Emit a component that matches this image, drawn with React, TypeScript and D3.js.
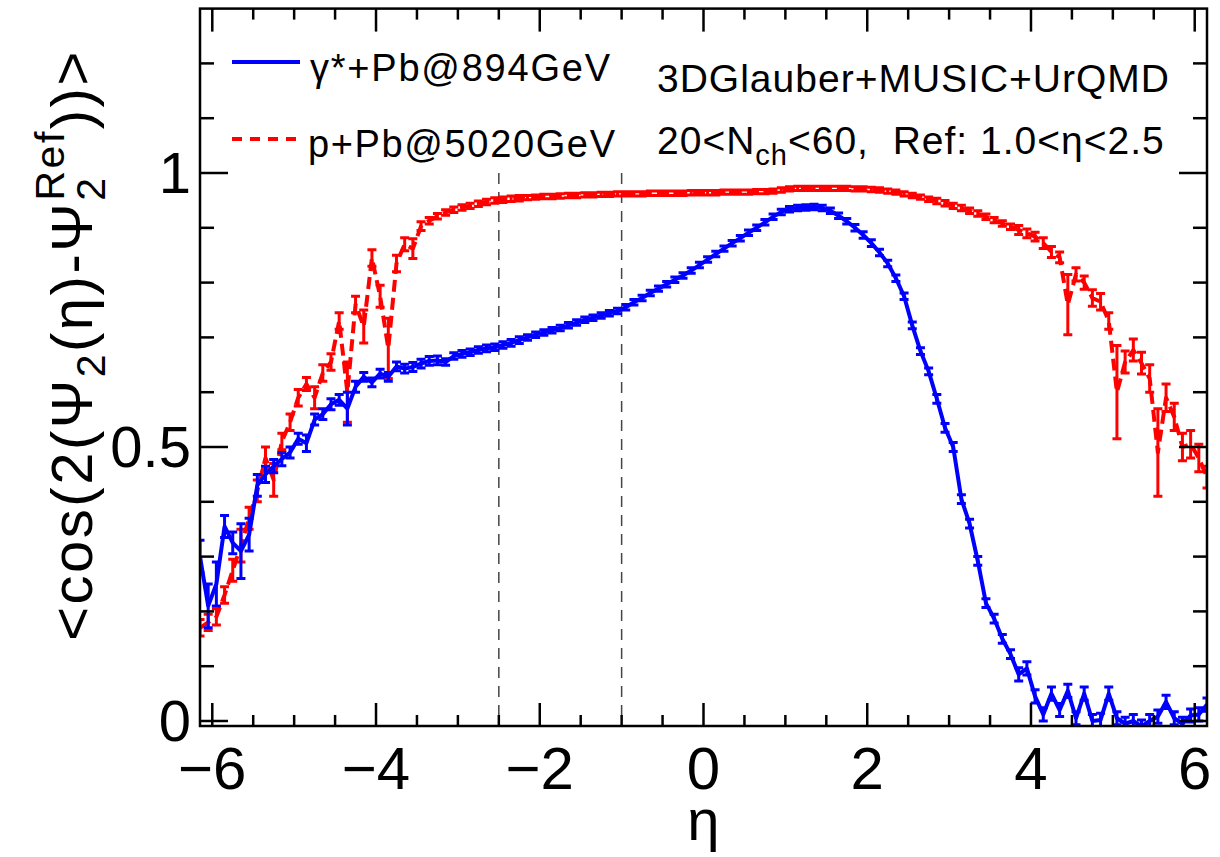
import React from 'react';
import * as d3 from 'd3';

// bin centres in eta
const ETA = [
  -6.15, -6.05, -5.95, -5.85, -5.75, -5.65, -5.55, -5.45, -5.35, -5.25,
  -5.15, -5.05, -4.95, -4.85, -4.75, -4.65, -4.55, -4.45, -4.35, -4.25,
  -4.15, -4.05, -3.95, -3.85, -3.75, -3.65, -3.55, -3.45, -3.35, -3.25,
  -3.15, -3.05, -2.95, -2.85, -2.75, -2.65, -2.55, -2.45, -2.35, -2.25,
  -2.15, -2.05, -1.95, -1.85, -1.75, -1.65, -1.55, -1.45, -1.35, -1.25,
  -1.15, -1.05, -0.95, -0.85, -0.75, -0.65, -0.55, -0.45, -0.35, -0.25,
  -0.15, -0.05, 0.05, 0.15, 0.25, 0.35, 0.45, 0.55, 0.65, 0.75,
  0.85, 0.95, 1.05, 1.15, 1.25, 1.35, 1.45, 1.55, 1.65, 1.75,
  1.85, 1.95, 2.05, 2.15, 2.25, 2.35, 2.45, 2.55, 2.65, 2.75,
  2.85, 2.95, 3.05, 3.15, 3.25, 3.35, 3.45, 3.55, 3.65, 3.75,
  3.85, 3.95, 4.05, 4.15, 4.25, 4.35, 4.45, 4.55, 4.65, 4.75,
  4.85, 4.95, 5.05, 5.15, 5.25, 5.35, 5.45, 5.55, 5.65, 5.75,
  5.85, 5.95, 6.05, 6.15,
];

// gamma*+Pb @ 894 GeV
const GAMMA_PB = [
  0.30, 0.21, 0.25, 0.355, 0.325, 0.31, 0.34, 0.43, 0.45, 0.465,
  0.478, 0.49, 0.515, 0.507, 0.55, 0.56, 0.578, 0.586, 0.57, 0.61,
  0.628, 0.618, 0.634, 0.628, 0.647, 0.643, 0.646, 0.652, 0.657, 0.658,
  0.655, 0.666, 0.670, 0.673, 0.677, 0.680, 0.682, 0.686, 0.690, 0.695,
  0.700, 0.705, 0.709, 0.713, 0.717, 0.722, 0.727, 0.732, 0.736, 0.740,
  0.744, 0.748, 0.755, 0.764, 0.772, 0.781, 0.789, 0.797, 0.805, 0.813,
  0.822, 0.832, 0.842, 0.852, 0.862, 0.872, 0.881, 0.891, 0.900, 0.910,
  0.920, 0.929, 0.934, 0.936, 0.937, 0.938, 0.936, 0.931, 0.922, 0.912,
  0.900, 0.887, 0.872, 0.855, 0.835, 0.808, 0.775, 0.722, 0.675, 0.638,
  0.588, 0.535, 0.500, 0.405, 0.360, 0.292, 0.215, 0.187, 0.150, 0.122,
  0.085, 0.096, 0.045, 0.012, 0.050, 0.020, 0.055, 0.005, 0.050, 0.000,
  0.002, 0.050, 0.005, -0.005, 0.000, -0.010, 0.000, 0.008, 0.035, 0.005,
  -0.005, 0.010, 0.012, 0.030,
];
const GAMMA_PB_ERR = [
  0.03, 0.04, 0.04, 0.02, 0.02, 0.05, 0.03, 0.02, 0.015, 0.012,
  0.012, 0.01, 0.01, 0.015, 0.01, 0.01, 0.01, 0.01, 0.03, 0.01,
  0.008, 0.008, 0.008, 0.008, 0.008, 0.008, 0.008, 0.008, 0.008, 0.008,
  0.006, 0.006, 0.006, 0.006, 0.006, 0.006, 0.006, 0.006, 0.006, 0.006,
  0.005, 0.005, 0.005, 0.005, 0.005, 0.005, 0.005, 0.005, 0.005, 0.005,
  0.005, 0.005, 0.005, 0.005, 0.005, 0.005, 0.005, 0.005, 0.005, 0.005,
  0.005, 0.005, 0.005, 0.005, 0.005, 0.005, 0.005, 0.005, 0.005, 0.005,
  0.005, 0.005, 0.005, 0.005, 0.005, 0.005, 0.005, 0.005, 0.005, 0.005,
  0.006, 0.006, 0.006, 0.006, 0.006, 0.006, 0.006, 0.006, 0.006, 0.006,
  0.008, 0.008, 0.008, 0.008, 0.008, 0.008, 0.008, 0.008, 0.008, 0.008,
  0.012, 0.012, 0.012, 0.012, 0.012, 0.012, 0.012, 0.012, 0.012, 0.012,
  0.012, 0.012, 0.012, 0.012, 0.012, 0.012, 0.012, 0.012, 0.012, 0.012,
  0.012, 0.012, 0.012, 0.012,
];

// p+Pb @ 5020 GeV
const P_PB = [
  0.17, 0.18, 0.19, 0.23, 0.275, 0.32, 0.37, 0.42, 0.48, 0.44,
  0.51, 0.545, 0.59, 0.615, 0.59, 0.635, 0.655, 0.73, 0.60, 0.76,
  0.72, 0.845, 0.775, 0.68, 0.835, 0.87, 0.862, 0.903, 0.913, 0.921,
  0.928, 0.933, 0.937, 0.940, 0.944, 0.947, 0.950, 0.951, 0.953, 0.954,
  0.955, 0.956, 0.957, 0.957, 0.958, 0.959, 0.959, 0.960, 0.960, 0.961,
  0.961, 0.962, 0.962, 0.962, 0.962, 0.963, 0.963, 0.963, 0.963, 0.963,
  0.964, 0.964, 0.964, 0.964, 0.965, 0.965, 0.965, 0.965, 0.966, 0.966,
  0.967, 0.969, 0.971, 0.972, 0.972, 0.972, 0.972, 0.972, 0.972, 0.972,
  0.971, 0.971, 0.970, 0.969, 0.967, 0.965, 0.962, 0.959, 0.956, 0.952,
  0.949, 0.945, 0.940, 0.936, 0.931, 0.926, 0.920, 0.914, 0.908, 0.902,
  0.896, 0.890, 0.884, 0.872, 0.856, 0.846, 0.76, 0.815, 0.80, 0.772,
  0.765, 0.73, 0.60, 0.655, 0.677, 0.653, 0.625, 0.49, 0.59, 0.555,
  0.50, 0.505, 0.48, 0.445,
];
const P_PB_ERR = [
  0.015, 0.015, 0.015, 0.015, 0.02, 0.03, 0.02, 0.02, 0.02, 0.03,
  0.015, 0.015, 0.015, 0.012, 0.02, 0.015, 0.015, 0.015, 0.055, 0.015,
  0.03, 0.015, 0.02, 0.055, 0.015, 0.012, 0.018, 0.008, 0.006, 0.005,
  0.005, 0.005, 0.005, 0.005, 0.005, 0.005, 0.005, 0.005, 0.005, 0.005,
  0.004, 0.004, 0.004, 0.004, 0.004, 0.004, 0.004, 0.004, 0.004, 0.004,
  0.004, 0.004, 0.004, 0.004, 0.004, 0.004, 0.004, 0.004, 0.004, 0.004,
  0.004, 0.004, 0.004, 0.004, 0.004, 0.004, 0.004, 0.004, 0.004, 0.004,
  0.004, 0.004, 0.004, 0.004, 0.004, 0.004, 0.004, 0.004, 0.004, 0.004,
  0.004, 0.004, 0.004, 0.004, 0.004, 0.004, 0.004, 0.004, 0.004, 0.004,
  0.005, 0.005, 0.005, 0.005, 0.005, 0.005, 0.005, 0.005, 0.005, 0.005,
  0.008, 0.008, 0.008, 0.01, 0.01, 0.01, 0.055, 0.012, 0.012, 0.015,
  0.015, 0.015, 0.085, 0.02, 0.02, 0.02, 0.025, 0.08, 0.025, 0.025,
  0.025, 0.025, 0.025, 0.02,
];

const X_MAJOR = [-6, -4, -2, 0, 2, 4, 6];
const X_LABELS = ['\u22126', '\u22124', '\u22122', '0', '2', '4', '6'];
const X_MINOR = [-5.5, -5, -4.5, -3.5, -3, -2.5, -1.5, -1, -0.5, 0.5, 1, 1.5, 2.5, 3, 3.5, 4.5, 5, 5.5];
const Y_MAJOR = [0, 0.5, 1];
const Y_LABELS = ['0', '0.5', '1'];
const Y_MINOR = [0.1, 0.2, 0.3, 0.4, 0.6, 0.7, 0.8, 0.9, 1.1, 1.2];
const REF_LINES = [-2.5, -1.0];

const FONT = "'Liberation Sans', Arial, Helvetica, sans-serif";
const W = 1220;
const H = 857;
const L = 200, R = 1207;

const x = d3.scaleLinear().domain([-6.15, 6.15]).range([L, R]);
const y = d3.scaleLinear().domain([0, 1]).range([721, 173]);
const T = y(1.3);
const B = 726;

type Pt = { e: number; v: number; err: number };
const mk = (vals: number[], errs: number[]): Pt[] => ETA.map((e, i) => ({ e, v: vals[i], err: errs[i] }));

const line = d3.line<Pt>().x(d => x(d.e)).y(d => y(d.v));

function Series({ data, color, dash }: { data: Pt[]; color: string; dash?: string }) {
  const cap = 4.5;
  const bars = data.map(d => {
    const x0 = x(d.e), y1 = y(d.v - d.err), y2 = y(d.v + d.err);
    return `M${x0},${y1}L${x0},${y2}M${x0 - cap},${y1}L${x0 + cap},${y1}M${x0 - cap},${y2}L${x0 + cap},${y2}`;
  }).join('');
  return (
    <g clipPath="url(#plotclip)">
      <path d={line(data) || ''} fill="none" stroke={color} strokeWidth={4} strokeDasharray={dash} strokeLinejoin="round" />
      <path d={bars} fill="none" stroke={color} strokeWidth={3} />
    </g>
  );
}

export default function App() {
  const gam = mk(GAMMA_PB, GAMMA_PB_ERR);
  const ppb = mk(P_PB, P_PB_ERR);
  const tickStroke = 2.5;
  const xMajLen = 23, xMinLen = 11, yMajLen = 28, yMinLen = 14;
  return (
    <svg width={W} height={H} style={{ position: 'absolute', left: 0, top: 0, background: '#fff' }} fontFamily={FONT}>
      <defs>
        <clipPath id="plotclip">
          <rect x={L} y={T} width={R - L} height={B - T} />
        </clipPath>
      </defs>
      <rect x={0} y={0} width={W} height={H} fill="#fff" />

      {/* reference dashed lines */}
      {REF_LINES.map(r => (
        <line key={r} x1={x(r)} x2={x(r)} y1={y(1.0)} y2={B} stroke="#444" strokeWidth={1.5} strokeDasharray="11 8" />
      ))}

      <Series data={ppb} color="#ff0000" dash="12 6" />
      <Series data={gam} color="#0000ff" />

      {/* frame */}
      <rect x={L} y={T} width={R - L} height={B - T} fill="none" stroke="#000" strokeWidth={2.5} />

      {/* x ticks */}
      {X_MAJOR.map(t => (
        <g key={'xM' + t}>
          <line x1={x(t)} x2={x(t)} y1={B} y2={B - xMajLen} stroke="#000" strokeWidth={tickStroke} />
          <line x1={x(t)} x2={x(t)} y1={T} y2={T + xMajLen} stroke="#000" strokeWidth={tickStroke} />
        </g>
      ))}
      {X_MINOR.map(t => (
        <g key={'xm' + t}>
          <line x1={x(t)} x2={x(t)} y1={B} y2={B - xMinLen} stroke="#000" strokeWidth={tickStroke} />
          <line x1={x(t)} x2={x(t)} y1={T} y2={T + xMinLen} stroke="#000" strokeWidth={tickStroke} />
        </g>
      ))}
      {X_MAJOR.map((t, i) => (
        <text key={'xl' + t} x={x(t)} y={789} fontSize={60} textAnchor="middle">{X_LABELS[i]}</text>
      ))}

      {/* y ticks */}
      {Y_MAJOR.map(t => (
        <g key={'yM' + t}>
          <line x1={L} x2={L + yMajLen} y1={y(t)} y2={y(t)} stroke="#000" strokeWidth={tickStroke} />
          <line x1={R} x2={R - yMajLen} y1={y(t)} y2={y(t)} stroke="#000" strokeWidth={tickStroke} />
        </g>
      ))}
      {Y_MINOR.map(t => (
        <g key={'ym' + t}>
          <line x1={L} x2={L + yMinLen} y1={y(t)} y2={y(t)} stroke="#000" strokeWidth={tickStroke} />
          <line x1={R} x2={R - yMinLen} y1={y(t)} y2={y(t)} stroke="#000" strokeWidth={tickStroke} />
        </g>
      ))}
      {Y_MAJOR.map((t, i) => (
        <text key={'yl' + t} x={191} y={y(t) + 20} fontSize={58} textAnchor="end">{Y_LABELS[i]}</text>
      ))}

      {/* axis titles */}
      <text x={(L + R) / 2} y={840} fontSize={58} textAnchor="middle">η</text>
      <text transform={`translate(92,345) rotate(-90)`} fontSize={58} letterSpacing={2.5} textAnchor="middle">
        {'<cos(2(Ψ'}
        <tspan fontSize={41} dy={13}>2</tspan>
        <tspan dy={-13}>{'(η)-Ψ'}</tspan>
        <tspan fontSize={41} dy={13}>2</tspan>
        <tspan fontSize={41} dx={-25} dy={-41}>Ref</tspan>
        <tspan dy={28}>{'))>'}</tspan>
      </text>

      {/* legend */}
      <line x1={232} x2={300} y1={62} y2={62} stroke="#0000ff" strokeWidth={4} />
      <line x1={232} x2={300} y1={139} y2={139} stroke="#ff0000" strokeWidth={4} strokeDasharray="10 8" />
      <text x={310} y={81} fontSize={38} textLength={300} lengthAdjust="spacing">γ*+Pb@894GeV</text>
      <text x={308} y={157} fontSize={38} textLength={307} lengthAdjust="spacing">p+Pb@5020GeV</text>

      {/* model text */}
      <text x={657} y={92} fontSize={39} textLength={512} lengthAdjust="spacing">3DGlauber+MUSIC+UrQMD</text>
      <text x={657} y={154} fontSize={39} letterSpacing={1}>
        {'20<N'}
        <tspan fontSize={29} dy={11}>ch</tspan>
        <tspan dy={-11}>{'<60,\u00A0\u00A0Ref: 1.0<η<2.5'}</tspan>
      </text>
    </svg>
  );
}
